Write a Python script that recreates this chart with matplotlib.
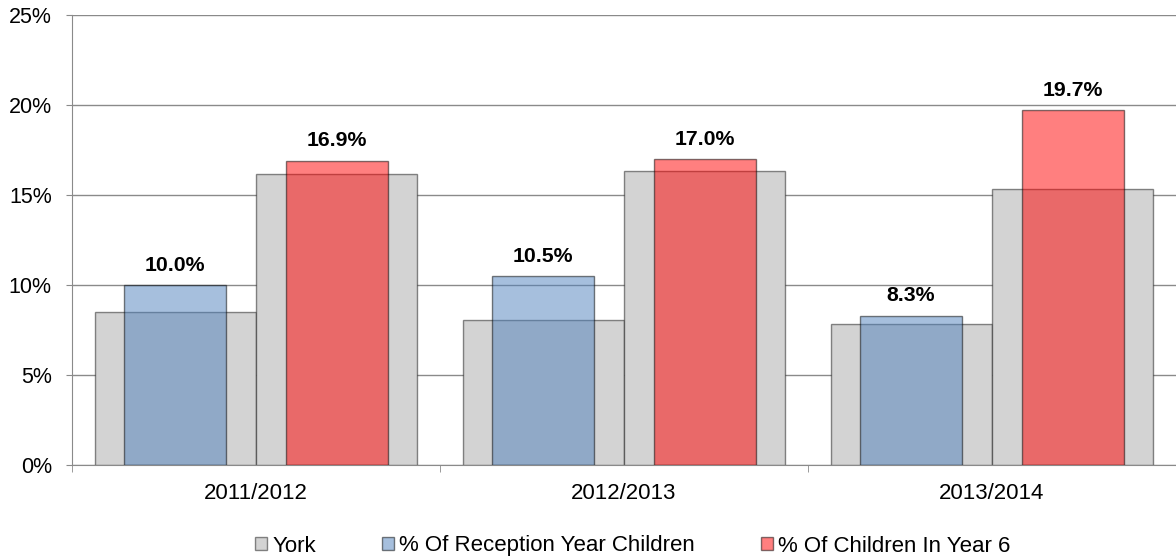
import numpy as np
from matplotlib import pyplot as plt

plt.rcParams['font.family'] = ['Liberation Sans', 'DejaVu Sans']

# Values (percent)
years = ['2011/2012', '2012/2013', '2013/2014']
york_reception = [8.5, 8.05, 7.85]
york_year6 = [16.15, 16.35, 15.35]
reception = [10.0, 10.5, 8.3]
year6 = [16.9, 17.0, 19.7]

grey = '#d3d3d3'
blue = '#4f81bd'
red = '#ff0000'
edge = (0, 0, 0, 0.45)

fig = plt.figure(figsize=(11.76, 5.6), dpi=100)
ax = fig.add_axes([72/1176, 1-465/560, 1-72/1176, 450/560])

x = np.arange(len(years))
off = 0.22
yw = 0.4375
cw = 0.277

ax.bar(x - off, york_reception, yw, color=grey, edgecolor=edge, linewidth=1, zorder=2, label='York')
ax.bar(x + off, york_year6, yw, color=grey, edgecolor=edge, linewidth=1, zorder=2)
b1 = ax.bar(x - off, reception, cw, color=blue, alpha=0.5, edgecolor='black', linewidth=1, zorder=3,
            label='% Of Reception Year Children')
b2 = ax.bar(x + off, year6, cw, color=red, alpha=0.5, edgecolor='black', linewidth=1, zorder=3,
            label='% Of Children In Year 6')

for bars, vals in [(b1, reception), (b2, year6)]:
    for b, v in zip(bars, vals):
        ax.annotate('{:.1f}%'.format(v), (b.get_x() + b.get_width()/2, v), xytext=(0, 7.5),
                    textcoords='offset points', ha='center', va='bottom',
                    fontsize=15.3, fontweight='bold', zorder=5)

ax.set_xlim(-0.5, 2.5)
ax.set_ylim(0, 25)
ax.set_yticks(np.arange(0, 26, 5))
ax.set_yticklabels(['{}%'.format(v) for v in range(0, 26, 5)])
ax.yaxis.grid(True, color='#8a8a8a', linewidth=1, zorder=1)
ax.set_axisbelow(True)

ax.set_xticks(x)
ax.set_xticklabels(years)
ax.set_xticks([-0.5, 0.5, 1.5, 2.5], minor=True)
ax.tick_params(axis='x', which='major', length=0, pad=13, labelsize=16)
ax.tick_params(axis='x', which='minor', length=5, color='#8a8a8a', direction='out')
ax.tick_params(axis='y', length=4.5, color='#8a8a8a', pad=10, labelsize=15.5)

for s in ['top', 'right']:
    ax.spines[s].set_visible(False)
ax.spines['left'].set_color('#8a8a8a')
ax.spines['bottom'].set_color('#8a8a8a')

h, l = ax.get_legend_handles_labels()
fig.legend(h, l, loc='center left', bbox_to_anchor=(0.2093, 1-546/560), ncol=3, frameon=False,
           fontsize=16, handlelength=0.54, handleheight=0.54, handletextpad=0.23,
           columnspacing=2.97, borderaxespad=0)

plt.savefig('out.png', dpi=100)
